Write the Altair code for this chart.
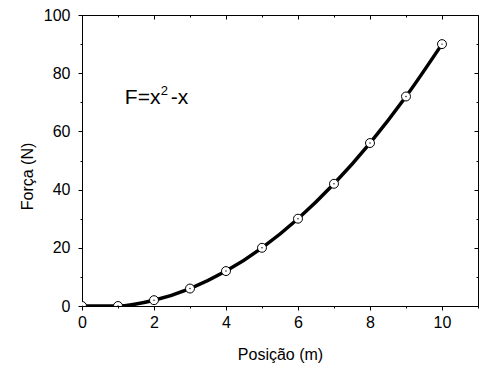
import altair as alt
import pandas as pd

# data
pos = [0, 1, 2, 3, 4, 5, 6, 7, 8, 9, 10]
force = [0, 0, 2, 6, 12, 20, 30, 42, 56, 72, 90]
x_major = [0, 2, 4, 6, 8, 10]
x_minor = [1, 3, 5, 7, 9, 11]
y_major = [0, 20, 40, 60, 80, 100]
y_minor = [10, 30, 50, 70, 90]
annot_base = ["F=x"]
annot_sup = ["2"]
annot_tail = ["-x"]
annot_x = [1.19]
annot_y = [69.5]

FONT = "Liberation Sans"

df = pd.DataFrame({"x": pos, "y": force})
adf = pd.DataFrame({"x": annot_x, "y": annot_y, "a": annot_base,
                    "s": annot_sup, "b": annot_tail})

xs = alt.Scale(domain=[0, 11], nice=False, zero=False)
ys = alt.Scale(domain=[0, 100], nice=False)


def ax(orient, values, size, offset=0, **kw):
    base = dict(orient=orient, values=values, tickSize=size, tickWidth=1,
                tickColor="black", domain=False, grid=False, offset=offset,
                labels=False, title=None)
    base.update(kw)
    return alt.Axis(**base)


label_kw = dict(labels=True, labelFont=FONT, labelFontSize=16,
                labelColor="black", labelFlush=False)

x_main = ax("bottom", x_major, 4, labelPadding=4, title="Posição (m)",
            titleFont=FONT, titleFontSize=16, titleFontWeight="normal",
            titleColor="black", titleY=53, titleBaseline="alphabetic",
            **label_kw)
y_main = ax("left", y_major, 4, labelPadding=8, title="Força (N)",
            titleFont=FONT, titleFontSize=16, titleFontWeight="normal",
            titleColor="black", titleX=-55, titleY=161, titleAngle=270,
            titleAlign="center", titleBaseline="middle", **label_kw)

line = alt.Chart(df).mark_line(color="black", strokeWidth=3.5,
                               interpolate="monotone", clip=True).encode(
    x=alt.X("x:Q", scale=xs, axis=x_main),
    y=alt.Y("y:Q", scale=ys, axis=y_main),
)

points = alt.Chart(df).mark_point(shape="circle", size=80, filled=False,
                                  fill="white", fillOpacity=1, stroke="black",
                                  strokeWidth=1, opacity=1, clip=True).encode(
    x=alt.X("x:Q", scale=xs, axis=ax("bottom", x_minor, 2)),
    y=alt.Y("y:Q", scale=ys, axis=ax("left", y_minor, 2)),
)

dots = alt.Chart(df).mark_point(shape="circle", size=2, filled=True,
                                color="black", opacity=1, clip=True).encode(
    x=alt.X("x:Q", scale=xs, axis=ax("top", x_major, 4, offset=-4)),
    y=alt.Y("y:Q", scale=ys, axis=ax("right", y_major, 4, offset=-4)),
)

text_a = alt.Chart(adf).mark_text(font=FONT, fontSize=21, color="black",
                                  align="left", baseline="alphabetic").encode(
    x=alt.X("x:Q", scale=xs, axis=ax("top", x_minor, 2, offset=-2)),
    y=alt.Y("y:Q", scale=ys, axis=ax("right", y_minor, 2, offset=-2)),
    text="a:N",
)
text_s = alt.Chart(adf).mark_text(font=FONT, fontSize=13, color="black",
                                  align="left", baseline="alphabetic",
                                  dx=36, dy=-9).encode(
    x=alt.X("x:Q", scale=xs, axis=None),
    y=alt.Y("y:Q", scale=ys, axis=None),
    text="s:N",
)
text_b = alt.Chart(adf).mark_text(font=FONT, fontSize=21, color="black",
                                  align="left", baseline="alphabetic",
                                  dx=46).encode(
    x=alt.X("x:Q", scale=xs, axis=None),
    y=alt.Y("y:Q", scale=ys, axis=None),
    text="b:N",
)

chart = alt.layer(line, points, dots, text_a, text_s, text_b).resolve_axis(
    x="independent", y="independent"
).properties(
    width=396, height=291,
    autosize=alt.AutoSizeParams(type="none"),
    padding={"left": 74, "top": 7, "right": 2, "bottom": 59},
    background="white",
).configure_view(stroke="black", strokeWidth=1)

chart.save("out.html", embed_options={"renderer": "svg", "actions": False})
